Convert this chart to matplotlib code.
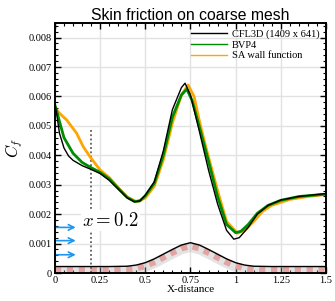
import matplotlib
matplotlib.use("Agg")
import matplotlib.pyplot as plt
from matplotlib.ticker import MultipleLocator, FixedLocator
import numpy as np

plt.rcParams['mathtext.fontset'] = 'cm'

# ---- data (Cf values in units of 1e-3) ----
x_cfl = [0, 0.01, 0.025, 0.05, 0.075, 0.1, 0.15, 0.2, 0.25, 0.3, 0.35, 0.4, 0.44, 0.47,
         0.5, 0.55, 0.6, 0.65, 0.7, 0.72, 0.75, 0.8, 0.85, 0.9, 0.95, 0.99, 1.02, 1.07,
         1.12, 1.18, 1.25, 1.35, 1.5]
cf_cfl = [5.75, 5.4, 4.75, 4.25, 3.98, 3.83, 3.65, 3.52, 3.38, 3.15, 2.85, 2.55, 2.42, 2.45,
          2.65, 3.1, 4.15, 5.55, 6.3, 6.45, 6.05, 4.8, 3.5, 2.35, 1.45, 1.15, 1.2, 1.55,
          2.0, 2.3, 2.48, 2.6, 2.7]

x_bvp = [0, 0.01, 0.025, 0.05, 0.1, 0.15, 0.2, 0.25, 0.3, 0.35, 0.4, 0.44, 0.47, 0.5,
         0.55, 0.6, 0.65, 0.7, 0.73, 0.76, 0.8, 0.85, 0.9, 0.95, 1.0, 1.03, 1.07, 1.12,
         1.18, 1.25, 1.35, 1.5]
cf_bvp = [5.7, 5.5, 5.15, 4.6, 4.07, 3.76, 3.58, 3.42, 3.2, 2.88, 2.57, 2.43, 2.45, 2.62,
          3.05, 4.0, 5.3, 6.05, 6.25, 5.85, 4.95, 3.8, 2.6, 1.65, 1.37, 1.42, 1.65, 2.03,
          2.3, 2.47, 2.6, 2.68]

x_sa = [0, 0.03, 0.065, 0.12, 0.156, 0.193, 0.25, 0.3, 0.35, 0.4, 0.453, 0.5, 0.55,
        0.6, 0.65, 0.7, 0.737, 0.77, 0.8, 0.83, 0.9, 0.95, 1.01, 1.05, 1.1, 1.15, 1.2,
        1.3, 1.4, 1.5]
cf_sa = [5.6, 5.4, 5.2, 4.75, 4.30, 3.96, 3.5, 3.25, 2.9, 2.58, 2.42, 2.55, 2.95,
         3.85, 5.1, 6.05, 6.39, 6.0, 5.15, 4.4, 2.8, 1.75, 1.35, 1.45, 1.75, 2.1, 2.3,
         2.5, 2.6, 2.67]

# bump geometry sketch (scaled, units of 1e-3)
x_bump = [0, 0.3, 0.4, 0.45, 0.5, 0.55, 0.6, 0.65, 0.7, 0.75, 0.8, 0.85, 0.9, 0.95,
          1.0, 1.05, 1.1, 1.2, 1.5]
y_bump = [0.22, 0.22, 0.23, 0.27, 0.35, 0.48, 0.64, 0.80, 0.95, 1.03, 0.95, 0.80, 0.64,
          0.48, 0.35, 0.27, 0.23, 0.22, 0.22]
y_wall = [0.11, 0.11, 0.12, 0.16, 0.24, 0.37, 0.53, 0.69, 0.84, 0.92, 0.84, 0.69, 0.53,
          0.37, 0.24, 0.16, 0.12, 0.11, 0.11]

arrow_y = [1.55, 1.1, 0.62]
x_station = 0.2

legend_labels = ["CFL3D (1409 x 641)", "BVP4", "SA wall function"]
xtick_vals = [0, 0.25, 0.5, 0.75, 1, 1.25, 1.5]
xtick_labels = ["0", "0.25", "0.5", "0.75", "1", "1.25", "1.5"]
ytick_vals = [0, 1, 2, 3, 4, 5, 6, 7, 8]
ytick_labels = ["0", "0.001", "0.002", "0.003", "0.004", "0.005", "0.006", "0.007", "0.008"]

s = 1e-3
sc = lambda a: np.array(a) * s

fig = plt.figure(figsize=(3.35, 3.01), dpi=100)
ax = fig.add_axes([0.164, 0.093, 0.809, 0.831])

serif = 'Liberation Serif'

# grid
ax.grid(True, color='#e2e2e2', lw=1.0, zorder=0)
ax.set_axisbelow(True)

# bump sketch
ax.plot(x_bump, sc(y_wall) - 0.00004, color='#b0b0b0', lw=7, alpha=0.35,
        solid_capstyle='butt', zorder=1)
ax.plot(x_bump, sc(y_wall), color='#e4a3a3', lw=4.5, dashes=(1.0, 0.9),
        zorder=2)
ax.plot(x_bump, sc(y_bump), color='black', lw=1.0, zorder=3)

# arrows
for ya in arrow_y:
    ax.annotate('', xy=(0.115, ya * s), xytext=(0.0, ya * s),
                arrowprops=dict(arrowstyle='->', color='#1e96f0', lw=1.2,
                                shrinkA=0, shrinkB=0), zorder=4)

# station line
ax.plot([x_station, x_station], [0, 0.0049], color='#444444', lw=1.1,
        ls=(0, (1.2, 1.6)), zorder=3)
ax.text(0.15, 0.00178, r'$x = 0.2$', fontsize=13.5, va='center', ha='left',
        bbox=dict(facecolor='white', edgecolor='none', pad=0.5), zorder=5)

# curves
l3, = ax.plot(x_sa, sc(cf_sa), color='#ffa500', lw=2.0, zorder=6)
l2, = ax.plot(x_bvp, sc(cf_bvp), color='#008c00', lw=2.0, zorder=7)
l1, = ax.plot(x_cfl, sc(cf_cfl), color='black', lw=1.0, zorder=8)

ax.set_xlim(0, 1.5)
ax.set_ylim(0, 0.0085)

ax.xaxis.set_major_locator(FixedLocator(xtick_vals))
ax.set_xticklabels(xtick_labels, fontfamily=serif, fontsize=7.5)
ax.xaxis.set_minor_locator(MultipleLocator(0.05))
ax.yaxis.set_major_locator(FixedLocator(sc(ytick_vals)))
ax.set_yticklabels(ytick_labels, fontfamily=serif, fontsize=7.5)
ax.yaxis.set_minor_locator(MultipleLocator(0.0002))

ax.tick_params(which='both', direction='in', top=True, right=True)
ax.tick_params(which='major', length=4.5, width=1.0, pad=2)
ax.tick_params(which='minor', length=2.5, width=0.8)

for sp in ax.spines.values():
    sp.set_linewidth(1.4)
    sp.set_zorder(10)

ax.set_xlabel('X-distance', fontfamily=serif, fontsize=8, labelpad=0)
ax.set_ylabel(r'$C_f$', fontsize=12, labelpad=3)
ax.set_title('Skin friction on coarse mesh', fontfamily='Liberation Sans',
             fontsize=11.3, pad=2)

leg = ax.legend([l1, l2, l3], legend_labels, loc='upper right', frameon=False,
                prop={'family': serif, 'size': 7.5}, handlelength=3.4,
                handletextpad=0.5, labelspacing=0.15, borderaxespad=0.2)
for h in leg.get_lines():
    h.set_linewidth(1.0)

fig.savefig('out.png', dpi=100)
